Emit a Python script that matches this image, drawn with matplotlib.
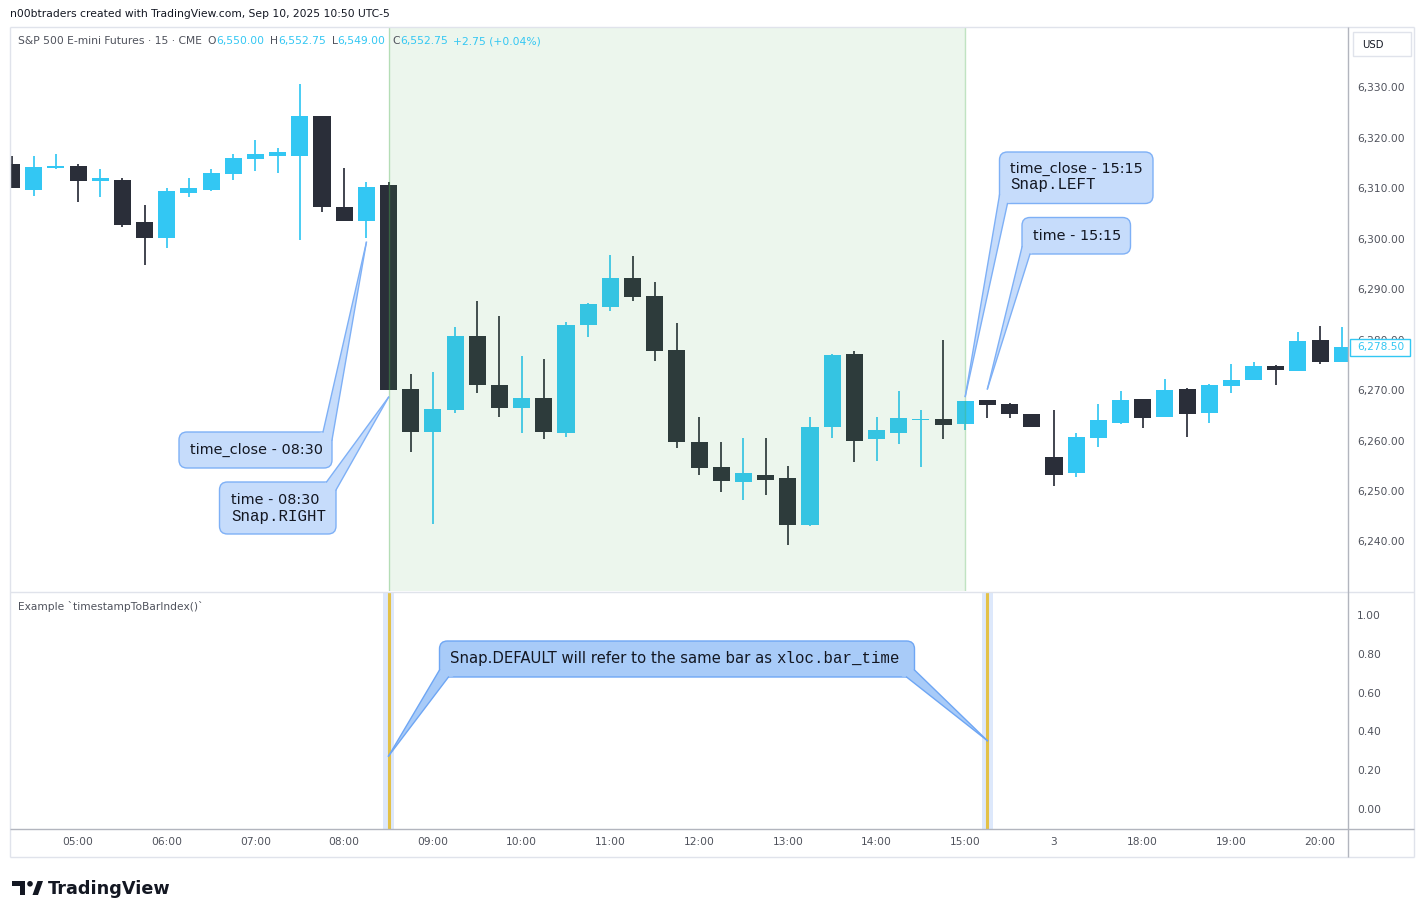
import math
import matplotlib
matplotlib.use("Agg")
import matplotlib.pyplot as plt
from matplotlib.patches import FancyBboxPatch, Polygon, Rectangle, Circle

W, H, DPI = 1424, 918, 100

# ---------------- data ----------------
opens = [6314.75, 6309.75, 6314.00, 6314.50, 6311.50, 6311.75, 6303.25, 6300.25, 6309.00, 6309.75,
         6312.75, 6315.75, 6316.50, 6316.50, 6324.25, 6306.25, 6303.50, 6310.75, 6270.25, 6261.75,
         6266.00, 6280.75, 6271.00, 6266.50, 6268.50, 6261.50, 6283.00, 6286.50, 6292.25, 6288.75,
         6278.00, 6259.75, 6254.75, 6251.75, 6253.25, 6252.50, 6243.25, 6262.75, 6277.25, 6260.25,
         6261.50, 6264.00, 6264.25, 6263.25, 6268.00, 6267.25, 6265.25, 6256.75, 6253.50, 6260.50,
         6263.50, 6268.25, 6264.75, 6270.25, 6265.50, 6270.75, 6272.00, 6274.75, 6273.75, 6280.00,
         6275.50]
highs = [6316.50, 6316.50, 6316.75, 6314.75, 6313.75, 6312.00, 6306.75, 6310.00, 6312.00, 6313.75,
         6316.75, 6319.50, 6318.00, 6330.75, 6324.25, 6314.00, 6311.25, 6311.25, 6273.25, 6273.50,
         6282.50, 6287.75, 6284.75, 6276.75, 6276.25, 6283.50, 6287.25, 6296.75, 6296.50, 6291.50,
         6283.25, 6264.75, 6259.75, 6260.50, 6260.50, 6255.00, 6264.75, 6277.25, 6277.75, 6264.75,
         6269.75, 6266.00, 6280.00, 6267.75, 6268.00, 6267.50, 6265.25, 6266.00, 6261.50, 6267.25,
         6269.75, 6268.25, 6272.25, 6270.50, 6271.25, 6275.25, 6275.50, 6275.00, 6281.50, 6282.75,
         6282.50]
lows = [6310.00, 6308.50, 6313.75, 6307.25, 6308.25, 6302.25, 6294.75, 6298.25, 6308.25, 6309.50,
        6311.75, 6313.50, 6313.00, 6299.75, 6305.25, 6303.50, 6300.25, 6270.00, 6257.75, 6243.50,
        6265.50, 6269.50, 6264.75, 6261.50, 6260.25, 6260.75, 6280.50, 6285.75, 6287.75, 6275.75,
        6258.50, 6253.25, 6249.75, 6248.25, 6249.25, 6239.25, 6243.00, 6260.50, 6255.75, 6256.00,
        6259.25, 6254.75, 6260.25, 6262.00, 6264.50, 6264.50, 6262.75, 6251.00, 6252.75, 6258.75,
        6263.25, 6262.50, 6264.75, 6260.75, 6263.50, 6269.50, 6272.00, 6271.00, 6273.75, 6275.25,
        6275.50]
closes = [6310.00, 6314.25, 6314.50, 6311.50, 6312.00, 6302.75, 6300.25, 6309.50, 6310.00, 6313.00,
          6316.00, 6316.75, 6317.25, 6324.25, 6306.25, 6303.50, 6310.25, 6270.00, 6261.75, 6266.25,
          6280.75, 6271.00, 6266.50, 6268.50, 6261.75, 6283.00, 6287.00, 6292.25, 6288.50, 6277.75,
          6259.75, 6254.50, 6252.00, 6253.50, 6252.25, 6243.25, 6262.75, 6277.00, 6260.00, 6262.00,
          6264.50, 6264.25, 6263.00, 6267.75, 6267.00, 6265.25, 6262.75, 6253.25, 6260.75, 6264.00,
          6268.00, 6264.50, 6270.00, 6265.25, 6271.00, 6272.00, 6274.75, 6274.00, 6279.75, 6275.50,
          6278.50]

tick_bars = [3, 7, 11, 15, 19, 23, 27, 31, 35, 39, 43, 47, 51, 55, 59]
tick_labels = ["05:00", "06:00", "07:00", "08:00", "09:00", "10:00", "11:00", "12:00",
               "13:00", "14:00", "15:00", "3", "18:00", "19:00", "20:00"]
price_ticks = [6240, 6250, 6260, 6270, 6280, 6290, 6300, 6310, 6320, 6330]
osc_ticks = [0.0, 0.2, 0.4, 0.6, 0.8, 1.0]

session_bars = (17, 43)          # 08:30 .. 15:00
marked_bars = [17, 44]           # 08:30 and 15:15
last_price = 6278.50

title = "n00btraders created with TradingView.com, Sep 10, 2025 10:50 UTC-5"
header_name = "S&P 500 E-mini Futures \u00b7 15 \u00b7 CME"
header_keys = ["O", "H", "L", "C"]
header_vals = ["6,550.00", "6,552.75", "6,549.00", "6,552.75"]
header_change = "+2.75 (+0.04%)"
pane_title = "Example `timestampToBarIndex()`"

# callout tips in data coords (bar index, value)
tip_bars = [16, 17, 43, 44]
tip_prices = [6299.3, 6268.6, 6268.75, 6270.25]
lower_tip_bars = [17, 44]
lower_tip_vals = [0.273, 0.352]

# ---------------- style ----------------
UP = "#33C7F3"
DOWN = "#2A2E39"
AXC = "#4F525C"
TXT = "#131722"
GRID_L = "#E0E3EB"
AX_L = "#B2B5BE"
SANS = "DejaVu Sans"
MONO = "Liberation Mono"

fig = plt.figure(figsize=(W / DPI, H / DPI), dpi=DPI)
fig.patch.set_facecolor("white")
renderer = fig.canvas.get_renderer()


def fit_size(s, target, family=SANS, weight="normal"):
    t = fig.text(0, 0, s, fontsize=10, family=family, weight=weight)
    w = t.get_window_extent(renderer).width
    t.remove()
    return 10 * target / w


def rect(x0, y0, x1, y1):
    return [x0 / W, 1 - y1 / H, (x1 - x0) / W, (y1 - y0) / H]


ax = fig.add_axes(rect(10, 27, 1348, 591))
ax2 = fig.add_axes(rect(10, 592, 1348, 829))
ov = fig.add_axes([0, 0, 1, 1])
ov.set_xlim(0, W)
ov.set_ylim(H, 0)
ov.axis("off")
ov.set_zorder(10)

for a in (ax, ax2):
    a.set_facecolor("white")
    for s in a.spines.values():
        s.set_visible(False)

n = len(opens)
xs = list(range(n))
cols = [UP if c >= o else DOWN for o, c in zip(opens, closes)]
bottoms = [min(o, c) for o, c in zip(opens, closes)]
heights = [max(abs(c - o), 0.2) for o, c in zip(opens, closes)]

ax.vlines(xs, lows, highs, colors=cols, lw=1.25, zorder=1.5)
ax.bar(xs, heights, width=0.77, bottom=bottoms, color=cols, lw=0, zorder=2)
ax.axvspan(session_bars[0], session_bars[1], fc="#4CAF50", alpha=0.1, lw=0, zorder=3)
for b in session_bars:
    ax.axvline(b, color="#4CAF50", alpha=0.35, lw=1, zorder=3.1)

ax.set_xlim(-0.068, 60.257)
ax.set_ylim(6230.18, 6341.99)
ax.set_xticks([])

ax_fs = fit_size("6,330.00", 47)
ax.yaxis.tick_right()
ax.set_yticks(price_ticks)
ax.set_yticklabels([f"{v:,.2f}" for v in price_ticks])
ax.tick_params(axis="y", length=0, pad=6.4, labelsize=ax_fs, labelcolor=AXC)

for b in marked_bars:
    ax2.axvspan(b - 0.25, b + 0.25, fc="#DDE8FB", lw=0, zorder=1)
    ax2.axvline(b, color="#E3C148", lw=2.2, zorder=2)
ax2.set_xlim(-0.068, 60.257)
ax2.set_ylim(-0.1031, 1.1186)
ax2.yaxis.tick_right()
ax2.set_yticks(osc_ticks)
ax2.set_yticklabels([f"{v:.2f}" for v in osc_ticks])
ax2.tick_params(axis="y", length=0, pad=6.4, labelsize=ax_fs, labelcolor=AXC)
ax2.set_xticks(tick_bars)
ax2.set_xticklabels(tick_labels)
ax2.tick_params(axis="x", length=0, pad=5.6, labelsize=ax_fs, labelcolor=AXC)


def to_px(a, x, y):
    d = a.transData.transform((x, y))
    return tuple(ov.transData.inverted().transform(d))


# ---------------- frame lines ----------------
def hline(y, x0, x1, c, lw=1.0):
    ov.plot([x0, x1], [y, y], color=c, lw=lw, zorder=1, solid_capstyle="butt")


def vline(x, y0, y1, c, lw=1.0):
    ov.plot([x, x], [y0, y1], color=c, lw=lw, zorder=1, solid_capstyle="butt")


hline(27, 10, 1414, GRID_L)
hline(857, 10, 1414, GRID_L)
vline(10, 27, 857, GRID_L)
vline(1414, 27, 857, GRID_L)
hline(591.5, 10, 1414, GRID_L)
vline(1348, 27, 857, AX_L)
hline(829, 10, 1414, AX_L)

# ---------------- texts ----------------
ov.text(10, 14, title, fontsize=fit_size(title, 377), family=SANS, color=TXT, va="center", ha="left")

hfs = fit_size(header_name, 183)
ov.text(18, 41, header_name, fontsize=hfs, family=SANS, color=AXC, va="center", ha="left", zorder=30)
key_x = [207, 270, 332, 392]
val_x = [216, 278, 337, 400]
for k, v, kx, vx in zip(header_keys, header_vals, key_x, val_x):
    ov.text(kx, 41, k, fontsize=hfs, family=SANS, color=AXC, va="center", ha="left", zorder=30)
    ov.text(vx, 41, v, fontsize=hfs, family=SANS, color=UP, va="center", ha="left", zorder=30)
ov.text(453, 41, header_change, fontsize=hfs, family=SANS, color=UP, va="center", ha="left", zorder=30)

ov.text(18, 607, pane_title, fontsize=fit_size(pane_title, 185), family=SANS, color=AXC,
        va="center", ha="left", zorder=30)

# USD box
ov.add_patch(Rectangle((1353, 32), 58, 24, fc="white", ec=GRID_L, lw=1, zorder=5))
ov.text(1362, 44.5, "USD", fontsize=ax_fs * 0.95, family=SANS, color=TXT, va="center", ha="left", zorder=6)

# last price label
_, ylp = to_px(ax, 0, last_price)
ov.add_patch(Rectangle((1349.5, ylp - 8), 60, 16.5, fc="white", ec=UP, lw=1, zorder=5))
ov.text(1357, ylp, f"{last_price:,.2f}", fontsize=ax_fs, family=SANS, color=UP, va="center", ha="left", zorder=6)

# ---------------- callouts ----------------
CS = fit_size("time_close - 08:30", 132)
CM = fit_size("Snap.RIGHT", 95, family=MONO)


def callout(box, tails, fc, ec, r=8):
    x0, y0, x1, y1 = box
    ov.add_patch(FancyBboxPatch((x0, y0), x1 - x0, y1 - y0,
                                boxstyle=f"round,pad=0,rounding_size={r}",
                                fc=fc, ec=ec, lw=1, zorder=20))
    cx, cy = (x0 + x1) / 2, (y0 + y1) / 2

    def inward(p, d=5):
        vx, vy = cx - p[0], cy - p[1]
        nn = math.hypot(vx, vy)
        return (p[0] + vx / nn * d, p[1] + vy / nn * d)

    for a, b, tip in tails:
        ov.add_patch(Polygon([inward(a), a, tip, b, inward(b)], closed=True, fc=fc, ec="none", zorder=21))
        ov.plot([a[0], tip[0]], [a[1], tip[1]], color=ec, lw=1, zorder=22)
        ov.plot([b[0], tip[0]], [b[1], tip[1]], color=ec, lw=1, zorder=22)


FC1, EC1 = "#C6DCFB", "#7EB0F6"
FC2, EC2 = "#A8CBF8", "#6EA6F4"

tips = [to_px(ax, b, p) for b, p in zip(tip_bars, tip_prices)]
ltips = [to_px(ax2, b, v) for b, v in zip(lower_tip_bars, lower_tip_vals)]

# time_close - 08:30
callout((179, 432, 332, 468), [((323, 432), (332, 440), tips[0])], FC1, EC1)
ov.text(190, 450, "time_close - 08:30", fontsize=CS, family=SANS, color=TXT, va="center", ha="left", zorder=25)
# time - 08:30 / Snap.RIGHT
callout((219.5, 482, 336, 534), [((326.5, 482), (336, 490), tips[1])], FC1, EC1)
ov.text(231, 499.5, "time - 08:30", fontsize=CS, family=SANS, color=TXT, va="center", ha="left", zorder=25)
ov.text(231, 516, "Snap.RIGHT", fontsize=CM, family=MONO, color=TXT, va="center", ha="left", zorder=25)
# time_close - 15:15 / Snap.LEFT
callout((999.5, 152, 1153, 203.5), [((999.5, 195), (1007.5, 203.5), tips[2])], FC1, EC1)
ov.text(1010, 169, "time_close - 15:15", fontsize=CS, family=SANS, color=TXT, va="center", ha="left", zorder=25)
ov.text(1010, 185, "Snap.LEFT", fontsize=CM, family=MONO, color=TXT, va="center", ha="left", zorder=25)
# time - 15:15
callout((1022, 217.5, 1130.5, 254), [((1022, 247), (1030, 254), tips[3])], FC1, EC1)
ov.text(1033, 236, "time - 15:15", fontsize=CS, family=SANS, color=TXT, va="center", ha="left", zorder=25)
# lower callout
callout((439.5, 641, 914.5, 677), [((439.5, 670), (448.5, 677), ltips[0]),
                                    ((914.5, 670), (906.5, 677), ltips[1])], FC2, EC2)
s_sans = "Snap.DEFAULT will refer to the same bar as "
t1 = ov.text(450, 658.5, s_sans, fontsize=fit_size(s_sans, 327), family=SANS,
             color=TXT, va="center", ha="left", zorder=25)
bb = t1.get_window_extent(renderer)
x_end = ov.transData.inverted().transform((bb.x1, bb.y0))[0]
ov.text(x_end, 658.5, "xloc.bar_time", fontsize=CM, family=MONO, color=TXT, va="center", ha="left", zorder=25)

# ---------------- TradingView logo ----------------
ov.add_patch(Rectangle((12, 881), 13, 5, fc=TXT, lw=0, zorder=5))
ov.add_patch(Rectangle((19.5, 881), 5.5, 14, fc=TXT, lw=0, zorder=5))
ov.add_patch(Circle((30, 883.8), 2.8, fc=TXT, lw=0, zorder=5))
ov.add_patch(Polygon([(32.5, 895), (37.5, 881), (43, 881), (38, 895)], closed=True, fc=TXT, lw=0, zorder=5))
ov.text(48, 888.5, "TradingView", fontsize=fit_size("TradingView", 122, weight="bold"), family=SANS,
        weight="bold", color=TXT, va="center", ha="left", zorder=5)

fig.savefig("out.png", dpi=DPI, facecolor="white")
